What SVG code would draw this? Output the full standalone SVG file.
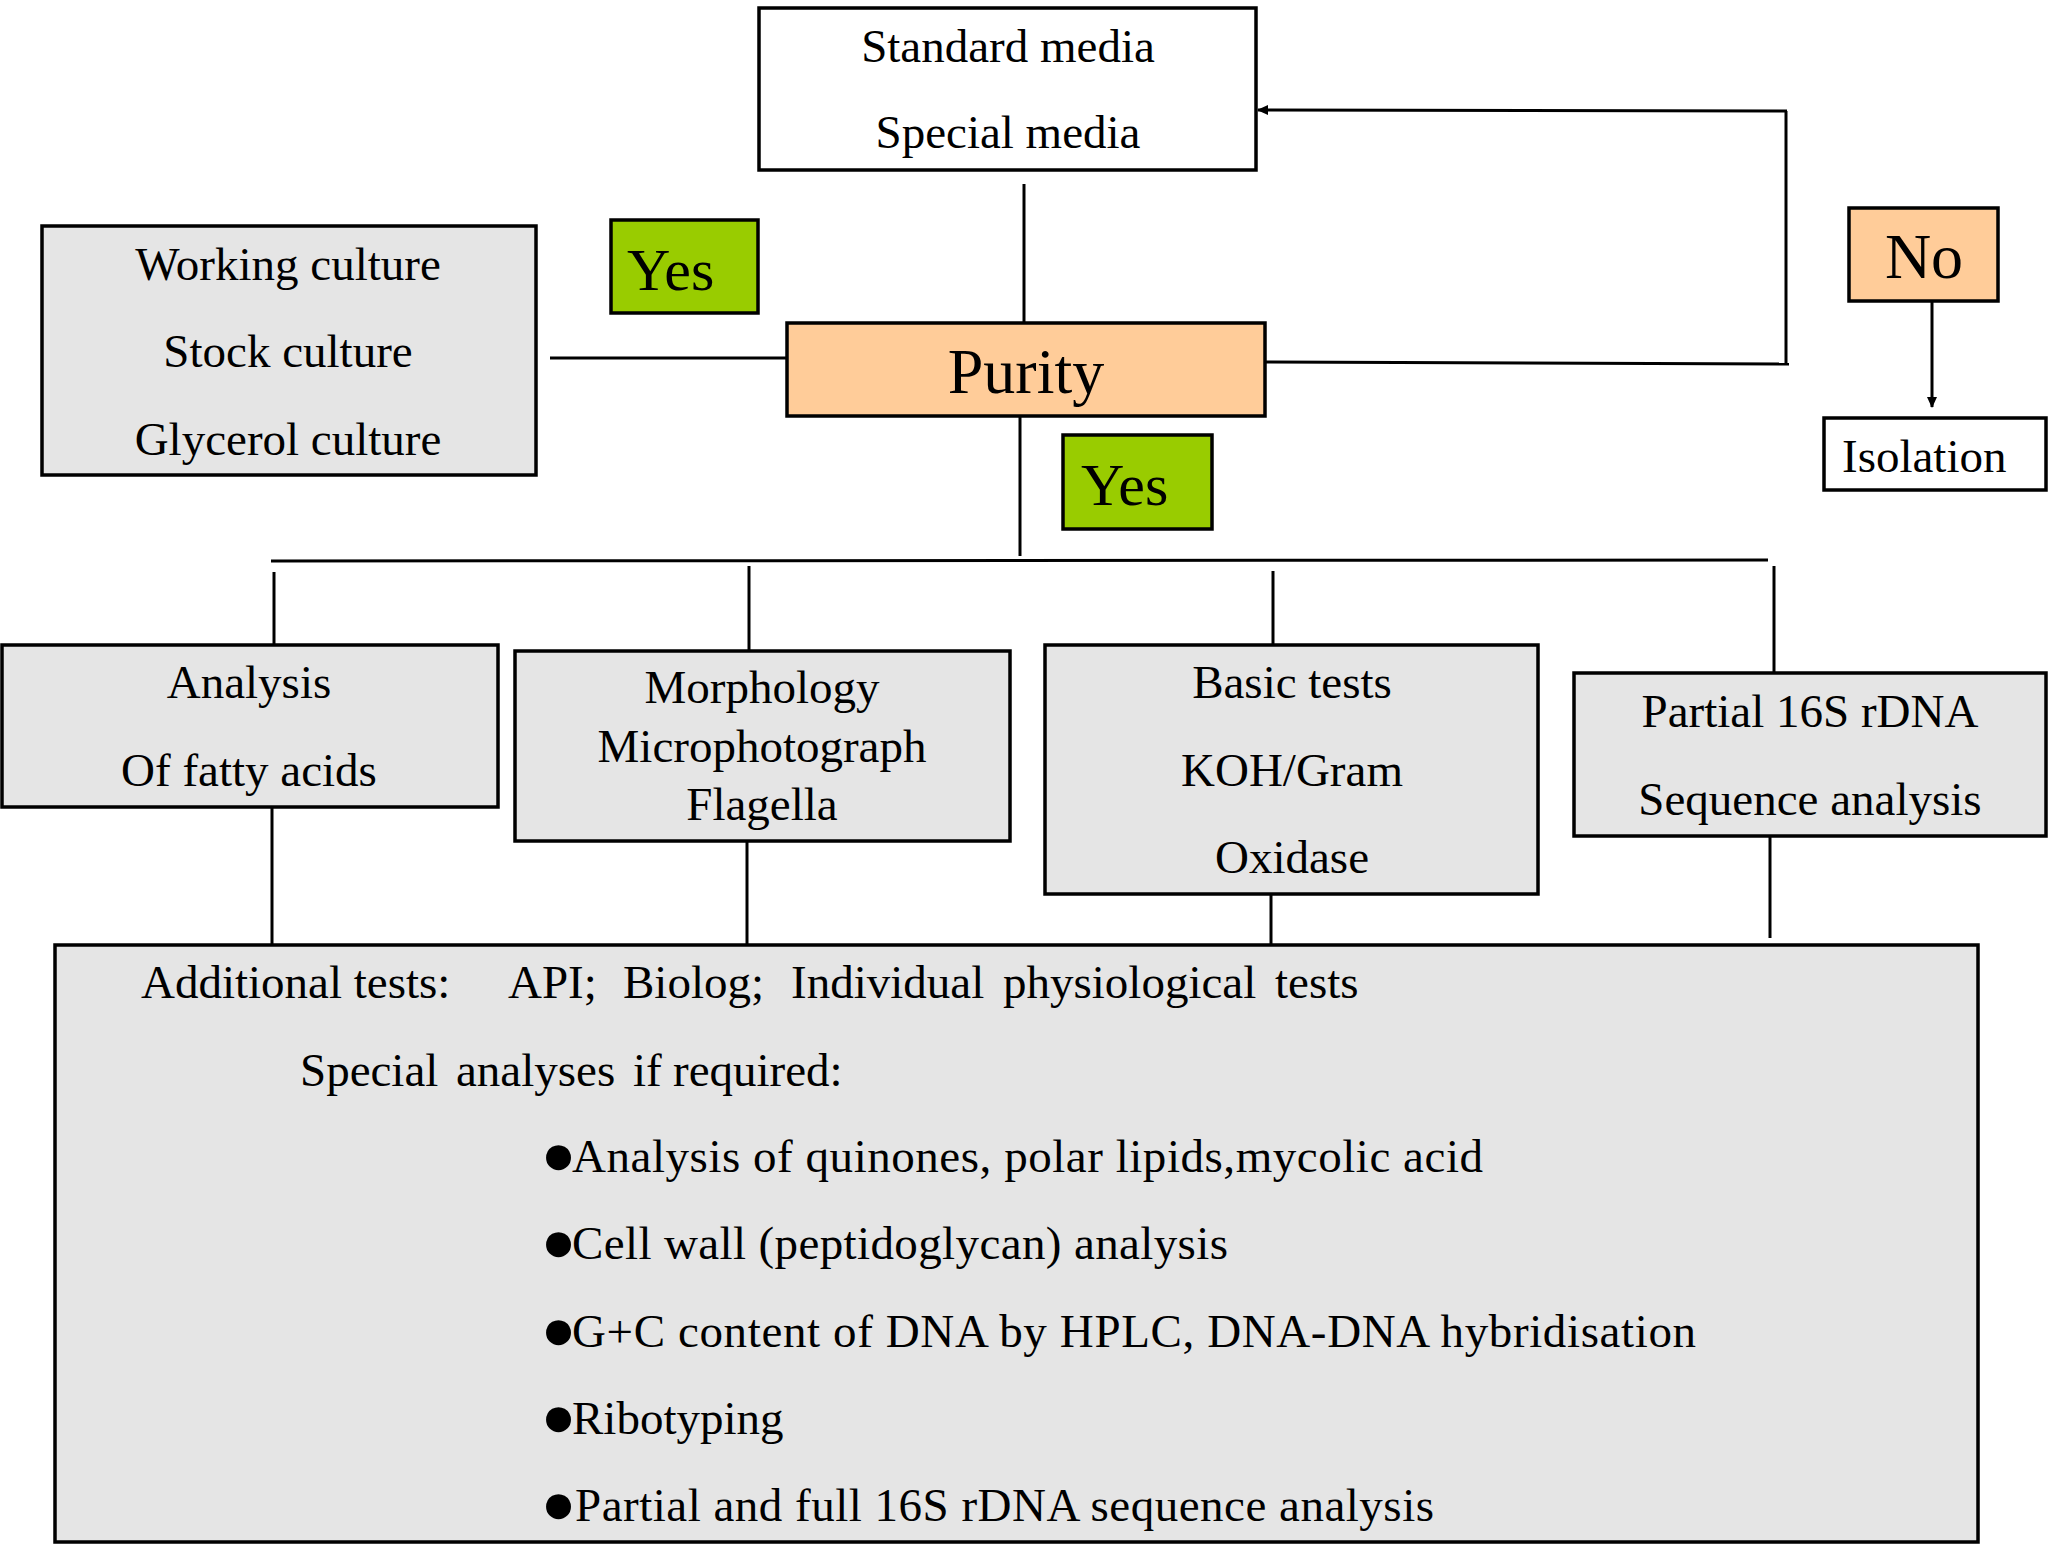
<svg xmlns="http://www.w3.org/2000/svg" width="2048" height="1564" viewBox="0 0 2048 1564">
<style>
.box{stroke:#000;stroke-width:3.5}
.white{fill:#fff}
.grey{fill:#e5e5e5}
.peach{fill:#ffcc99}
.green{fill:#99cc00}
.t{font-family:"Liberation Serif","Times New Roman",serif;font-size:47px;fill:#000}
.c{text-anchor:middle}
.big{font-size:64px}
.yes{font-size:60px}
.bul{font-size:58px}
.ln{stroke:#000;stroke-width:3;fill:none}
</style>
<defs>
<marker id="ah" markerWidth="12" markerHeight="12" refX="10" refY="6" orient="auto" markerUnits="userSpaceOnUse">
<path d="M0,1 L11,6 L0,11 Z" fill="#000"/>
</marker>
</defs>
<rect width="2048" height="1564" fill="#fff"/>
<g id="connectors">
<line class="ln" x1="1024" y1="184" x2="1024" y2="322"/>
<line class="ln" x1="550" y1="358" x2="787" y2="358"/>
<polyline class="ln" points="1265,362 1789,364"/>
<line class="ln" x1="1786" y1="365" x2="1786" y2="111"/>
<line class="ln" x1="1787" y1="111" x2="1258" y2="110" marker-end="url(#ah)"/>
<line class="ln" x1="1932" y1="301" x2="1932" y2="407" marker-end="url(#ah)"/>
<line class="ln" x1="1020" y1="416" x2="1020" y2="556"/>
<line class="ln" x1="271" y1="561" x2="1768" y2="560"/>
<line class="ln" x1="274" y1="572" x2="274" y2="644"/>
<line class="ln" x1="749" y1="566" x2="749" y2="650"/>
<line class="ln" x1="1273" y1="571" x2="1273" y2="644"/>
<line class="ln" x1="1774" y1="566" x2="1774" y2="673"/>
<line class="ln" x1="272" y1="807" x2="272" y2="944"/>
<line class="ln" x1="747" y1="842" x2="747" y2="944"/>
<line class="ln" x1="1271" y1="894" x2="1271" y2="944"/>
<line class="ln" x1="1770" y1="836" x2="1770" y2="938"/>
</g>
<g id="media">
<rect class="box white" x="759" y="8" width="497" height="162"/>
<text class="t c" x="1008" y="62">Standard media</text>
<text class="t c" x="1008" y="148">Special media</text>
</g>
<g id="cultures">
<rect class="box grey" x="42" y="226" width="494" height="249"/>
<text class="t c" x="288" y="280">Working culture</text>
<text class="t c" x="288" y="367">Stock culture</text>
<text class="t c" x="288" y="455">Glycerol culture</text>
</g>
<g id="yes-top">
<rect class="box green" x="611" y="220" width="147" height="93"/>
<text class="t yes" x="627" y="290">Yes</text>
</g>
<g id="purity">
<rect class="box peach" x="787" y="323" width="478" height="93"/>
<text class="t c big" x="1026" y="393">Purity</text>
</g>
<g id="no">
<rect class="box peach" x="1849" y="208" width="149" height="93"/>
<text class="t c big" x="1924" y="278">No</text>
</g>
<g id="isolation">
<rect class="box white" x="1824" y="418" width="222" height="72"/>
<text class="t" x="1842" y="472">Isolation</text>
</g>
<g id="yes-bottom">
<rect class="box green" x="1063" y="435" width="149" height="94"/>
<text class="t yes" x="1081" y="505">Yes</text>
</g>
<g id="fatty">
<rect class="box grey" x="2" y="645" width="496" height="162"/>
<text class="t c" x="249" y="698">Analysis</text>
<text class="t c" x="249" y="786">Of fatty acids</text>
</g>
<g id="morphology">
<rect class="box grey" x="515" y="651" width="495" height="190"/>
<text class="t c" x="762" y="703">Morphology</text>
<text class="t c" x="762" y="762">Microphotograph</text>
<text class="t c" x="762" y="820">Flagella</text>
</g>
<g id="basic">
<rect class="box grey" x="1045" y="645" width="493" height="249"/>
<text class="t c" x="1292" y="698">Basic tests</text>
<text class="t c" x="1292" y="786">KOH/Gram</text>
<text class="t c" x="1292" y="873">Oxidase</text>
</g>
<g id="partial16s">
<rect class="box grey" x="1574" y="673" width="472" height="163"/>
<text class="t c" x="1810" y="727">Partial 16S rDNA</text>
<text class="t c" x="1810" y="815">Sequence analysis</text>
</g>
<g id="additional">
<rect class="box grey" x="55" y="945" width="1923" height="597"/>
<text class="t" y="998"><tspan x="141">Additional tests:</tspan><tspan x="508">API;</tspan><tspan x="623">Biolog;</tspan><tspan x="791">Individual</tspan><tspan x="1003">physiological</tspan><tspan x="1275">tests</tspan></text>
<text class="t" y="1086"><tspan x="300">Special</tspan><tspan x="456">analyses</tspan><tspan x="633">if</tspan><tspan x="673">required:</tspan></text>
<text class="t bul" x="541" y="1174">●</text>
<text class="t" x="572" y="1172" textLength="911" lengthAdjust="spacing">Analysis of quinones, polar lipids,mycolic acid</text>
<text class="t bul" x="541" y="1261">●</text>
<text class="t" x="572" y="1259" textLength="656" lengthAdjust="spacing">Cell wall (peptidoglycan) analysis</text>
<text class="t bul" x="541" y="1349">●</text>
<text class="t" x="572" y="1347" textLength="1124" lengthAdjust="spacing">G+C content of DNA by HPLC, DNA-DNA hybridisation</text>
<text class="t bul" x="541" y="1436">●</text>
<text class="t" x="572" y="1434">Ribotyping</text>
<text class="t bul" x="541" y="1523">●</text>
<text class="t" x="575" y="1521" textLength="859" lengthAdjust="spacing">Partial and full 16S rDNA sequence analysis</text>
</g>
</svg>
